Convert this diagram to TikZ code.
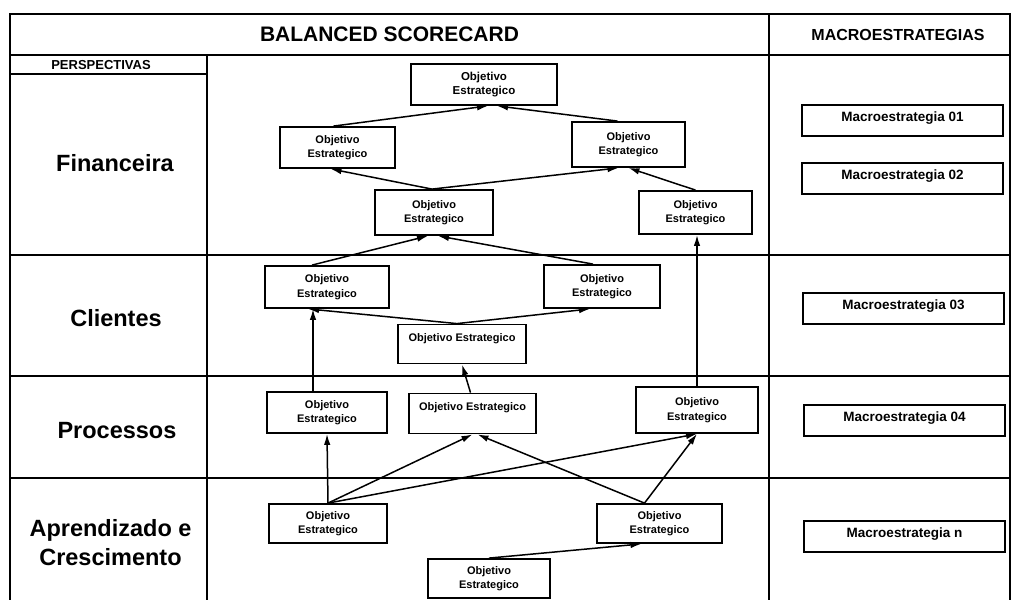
\documentclass[tikz,border=0pt]{standalone}
\usepackage{fontspec}
\setmainfont{Liberation Sans}
\usetikzlibrary{arrows.meta}

\tikzset{
  gridline/.style={line width=2pt},
  obj/.style={draw, line width=1.8pt, align=center, inner sep=2pt,
    font=\bfseries\fontsize{11}{14.5}\selectfont},
  oneline/.style={obj, inner ysep=3pt, text height=14.3pt, text depth=18.7pt},
  macro/.style={draw, line width=1.6pt, minimum width=201pt, inner ysep=3pt,
    text height=13.85pt, text depth=11.15pt,
    font=\bfseries\fontsize{13.5}{16}\selectfont},
  persp/.style={font=\bfseries\fontsize{23.5}{29}\selectfont, align=center},
  header/.style={font=\bfseries\fontsize{21}{25}\selectfont},
  link/.style={line width=1.5pt, -{Latex[length=11pt,width=6.5pt]}}
}

\begin{document}
\begin{tikzpicture}[x=1pt, y=-1pt]
  \useasboundingbox (0,0) rectangle (1013,600);
  \fill[white] (0,0) rectangle (1013,600);

  % table frame
  \draw[gridline] (10,600) -- (10,14) -- (1010,14) -- (1010,600);
  \draw[gridline] (10,55) -- (1010,55);
  \draw[gridline] (769,14) -- (769,600);
  \draw[gridline] (207,55) -- (207,600);
  \draw[gridline] (10,74) -- (207,74);
  \draw[gridline] (10,255) -- (1010,255);
  \draw[gridline] (10,376) -- (1010,376);
  \draw[gridline] (10,478) -- (1010,478);

  % headers
  \node[header] (title) at (389.5,34.5) {BALANCED SCORECARD};
  \node[font=\bfseries\fontsize{16}{19}\selectfont] (mtitle) at (898,34.5) {MACROESTRATEGIAS};
  \node[font=\bfseries\fontsize{13}{15}\selectfont] (ptitle) at (101,65.5) {PERSPECTIVAS};

  % perspectives
  \node[persp, anchor=base] (fin) at (115,171) {Financeira};
  \node[persp, anchor=base] (cli) at (116,326) {Clientes};
  \node[persp, anchor=base] (pro) at (117,438) {Processos};
  \node[persp] (apr) at (110.5,543) {Aprendizado e\\Crescimento};

  % macro-strategies
  \node[macro] (m1) at (902.5,120.5) {Macroestrategia 01};
  \node[macro] (m2) at (902.5,178.5) {Macroestrategia 02};
  \node[macro] (m3) at (903.5,308.5) {Macroestrategia 03};
  \node[macro] (m4) at (904.5,420.5) {Macroestrategia 04};
  \node[macro] (mn) at (904.5,536.5) {Macroestrategia n};

  % strategic objectives: financial
  \node[obj, minimum width=146pt, minimum height=41pt, font=\bfseries\fontsize{11.5}{14.5}\selectfont] (f1) at (484,84.5) {Objetivo\\Estrategico};
  \node[obj, minimum width=115pt, minimum height=41pt] (f2) at (337.5,147.5) {Objetivo\\Estrategico};
  \node[obj, minimum width=113pt, minimum height=45pt] (f3) at (628.5,144.5) {Objetivo\\Estrategico};
  \node[obj, minimum width=118pt, minimum height=45pt] (f4) at (434,212.5) {Objetivo\\Estrategico};
  \node[obj, minimum width=113pt, minimum height=43pt] (f5) at (695.5,212.5) {Objetivo\\Estrategico};

  % customers
  \node[obj, minimum width=124pt, minimum height=42pt] (c1) at (327,287) {Objetivo\\Estrategico};
  \node[obj, minimum width=116pt, minimum height=43pt] (c2) at (602,286.5) {Objetivo\\Estrategico};
  \node[oneline, minimum width=128pt] (c3) at (462,344) {Objetivo Estrategico};

  % processes
  \node[obj, minimum width=120pt, minimum height=41pt] (p1) at (327,412.5) {Objetivo\\Estrategico};
  \node[oneline, minimum width=127pt, text depth=19.7pt] (p2) at (472.5,413.5) {Objetivo Estrategico};
  \node[obj, minimum width=122pt, minimum height=46pt] (p3) at (697,410) {Objetivo\\Estrategico};

  % learning and growth
  \node[obj, minimum width=118pt, minimum height=39pt] (a1) at (328,523.5) {Objetivo\\Estrategico};
  \node[obj, minimum width=125pt, minimum height=39pt] (a2) at (659.5,523.5) {Objetivo\\Estrategico};
  \node[obj, minimum width=122pt, minimum height=39pt] (a3) at (489,578.5) {Objetivo\\Estrategico};

  % cause-and-effect links
  \draw[link] ([xshift=-4pt]f2.north) -- ([xshift=4pt]f1.south);
  \draw[link] ([xshift=-11pt]f3.north) -- ([xshift=13pt]f1.south);
  \draw[link] ([xshift=-2pt]f4.north) -- ([xshift=-7pt]f2.south);
  \draw[link] ([xshift=-2pt]f4.north) -- ([xshift=-10pt]f3.south);
  \draw[link] (f5.north) -- (f3.south);
  \draw[link] (p3.north) -- (p3.north |- f5.south);

  \draw[link] ([xshift=-15pt]c1.north) -- ([xshift=-6pt]f4.south);
  \draw[link] ([xshift=-9pt]c2.north) -- ([xshift=4pt]f4.south);
  \draw[link] ([xshift=-5pt]c3.north) -- ([xshift=-19pt]c1.south);
  \draw[link] ([xshift=-5pt]c3.north) -- ([xshift=-12pt]c2.south);

  \draw[link] ([xshift=-14pt]p1.north) -- ([xshift=-14pt]c1.south);
  \draw[link] ([xshift=-2pt]p2.north) -- (c3.south);

  \draw[link] (a1.north) -- (p1.south);
  \draw[link] (a1.north) -- (p2.south);
  \draw[link] (a1.north) -- (p3.south);
  \draw[link] ([xshift=-15pt]a2.north) -- ([xshift=5pt]p2.south);
  \draw[link] ([xshift=-15pt]a2.north) -- (p3.south);
  \draw[link] (a3.north) -- ([xshift=-18pt]a2.south);
\end{tikzpicture}
\end{document}
